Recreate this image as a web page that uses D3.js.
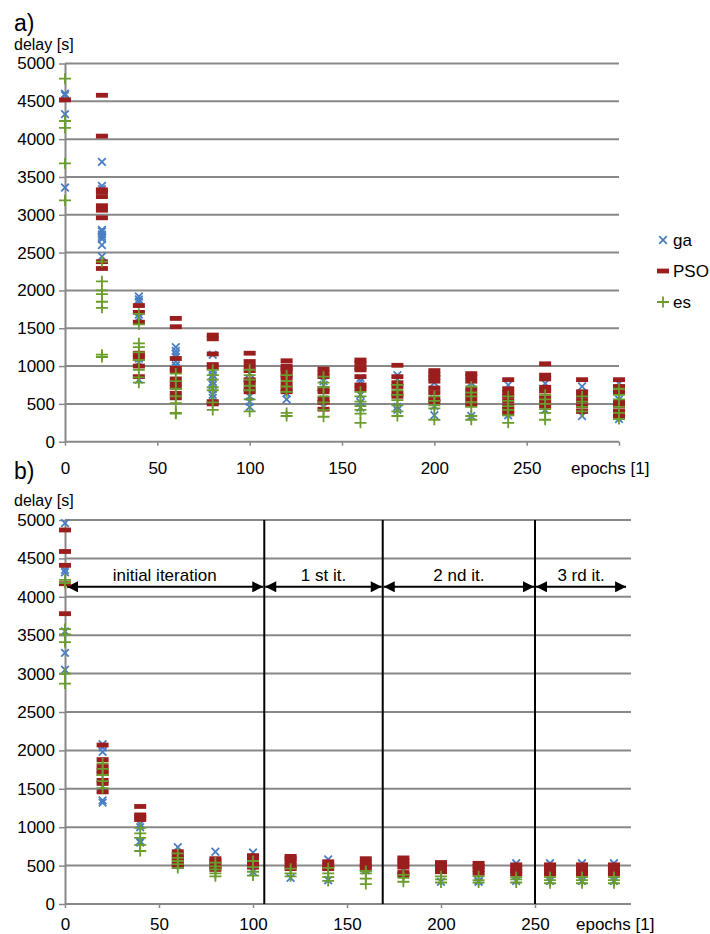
<!DOCTYPE html>
<html>
<head>
<meta charset="utf-8">
<script src="https://cdn.jsdelivr.net/npm/d3@7"></script>
<style>
  body { margin: 0; background: #fff; }
  text { font-family: "Liberation Sans", Arial, sans-serif; }
</style>
</head>
<body>
<script>
// ---- data: panel a) ----
const epochsA = [0, 20, 40, 60, 80, 100, 120, 140, 160, 180, 200, 220, 240, 260, 280, 300];
const gaA = [
  [4600, 4580, 4330, 3360],
  [3700, 3380, 3340, 2800, 2780, 2740, 2710, 2680, 2600, 2450],
  [1920, 1880, 1850, 1680, 1640, 1100, 1050, 820],
  [1250, 1200, 1160, 1120, 1060, 1010],
  [1150, 950, 880, 840, 790, 750, 700, 620, 580],
  [900, 700, 600, 530, 460],
  [800, 640, 560],
  [800, 750, 560, 460],
  [840, 800, 620, 520, 450],
  [880, 820, 460, 420],
  [780, 560, 470, 350],
  [780, 600, 340],
  [750, 560, 350],
  [770, 530, 420],
  [730, 620, 340],
  [770, 560, 300]
];
const psoA = [
  [4520],
  [4580, 4040, 3330, 3300, 3240, 3120, 3060, 2960, 2380, 2290],
  [1800, 1710, 1580, 1170, 1150, 1100, 1000, 860],
  [1630, 1520, 1100, 970, 940, 830, 770, 720, 640, 580],
  [1410, 1360, 1160, 1020, 980, 530, 500],
  [1170, 1060, 1000, 940, 820, 780, 700, 660],
  [1070, 1000, 960, 940, 880, 840, 760, 700, 660],
  [960, 910, 860, 700, 660, 560, 520, 430],
  [1080, 1040, 980, 950, 860, 750, 700],
  [1010, 860, 780, 730, 640, 600],
  [940, 890, 850, 800, 710, 650, 560, 530],
  [900, 860, 800, 690, 620, 560, 490],
  [820, 700, 650, 600, 540, 470, 420, 370],
  [1030, 880, 830, 720, 670, 580, 520, 470],
  [820, 660, 600, 540, 470, 400],
  [820, 730, 660, 530, 470, 400, 340]
];
const esA = [
  [4800, 4240, 4150, 3680, 3190],
  [2380, 2120, 2000, 1950, 1850, 1770, 1150, 1120],
  [1690, 1550, 1300, 1250, 1180, 1080, 950, 850, 780],
  [900, 800, 700, 600, 510, 380, 370],
  [950, 880, 820, 720, 680, 520, 420],
  [950, 880, 820, 740, 680, 560, 400],
  [880, 800, 730, 660, 380, 340],
  [860, 780, 720, 600, 520, 420, 330],
  [660, 600, 530, 470, 420, 370, 250],
  [750, 680, 620, 550, 480, 400, 340],
  [600, 540, 480, 440, 290],
  [730, 650, 600, 520, 460, 340, 290],
  [600, 540, 470, 420, 350, 250],
  [620, 560, 500, 430, 380, 290],
  [600, 530, 460, 400],
  [700, 620, 560, 460, 380, 300]
];

// ---- data: panel b) ----
const epochsB = [0, 20, 40, 60, 80, 100, 120, 140, 160, 180, 200, 220, 240, 258, 275, 292];
const gaB = [
  [4960, 4350, 4320, 3550, 3270, 3050],
  [2080, 2040, 1980, 1530, 1350, 1320],
  [1040, 1000, 820, 800],
  [740],
  [680],
  [670, 420],
  [340],
  [580, 310],
  [440],
  [440],
  [290],
  [300, 290],
  [530, 300],
  [530, 300],
  [530, 300],
  [530, 300]
];
const psoB = [
  [4870, 4590, 4410, 4170, 3780],
  [2070, 1880, 1790, 1740, 1700, 1610, 1570, 1460],
  [1270, 1160, 1130, 1100],
  [680, 640, 600, 560, 520, 490],
  [590, 560, 520, 480, 450],
  [630, 600, 560, 520, 480],
  [620, 590, 550, 500, 460],
  [550, 500, 460],
  [590, 540, 500, 460],
  [600, 560, 520, 480, 410, 380],
  [540, 500, 460, 420],
  [530, 490, 450, 400],
  [510, 470, 430, 390],
  [510, 470, 430, 390],
  [510, 470, 430, 390],
  [510, 470, 430, 390]
];
const esB = [
  [4220, 4180, 3580, 3510, 3410, 3000, 2870],
  [1830, 1760, 1680, 1600, 1510],
  [990, 920, 860, 770, 690],
  [660, 600, 560, 520, 470],
  [540, 490, 450, 400, 360],
  [560, 480, 420, 370],
  [460, 400, 360],
  [470, 400, 350, 300],
  [430, 400, 330, 260],
  [380, 340, 290],
  [360, 320, 280],
  [360, 310, 280],
  [350, 320, 280],
  [350, 310, 270],
  [350, 310, 270],
  [350, 310, 270]
];

// iteration boundaries in panel b) (epochs)
const iterBounds = [0, 106, 169, 250, 299];
const iterLabels = ["initial iteration", "1 st it.", "2 nd it.", "3 rd it."];
const iterArrowValue = 4130;

const yTicks = [0, 500, 1000, 1500, 2000, 2500, 3000, 3500, 4000, 4500, 5000];
const xTicks = [0, 50, 100, 150, 200, 250];
const seriesNames = ["ga", "PSO", "es"];

const colors = { ga: "#4a7ec4", PSO: "#9a1e1e", es: "#6a9c2e" };
const gridColor = "#888";
const fs = 17;

const width = 710, height = 934;
const svg = d3.select("body").append("svg")
  .attr("width", width)
  .attr("height", height);

svg.append("defs").append("marker")
  .attr("id", "ahead")
  .attr("viewBox", "0 0 10 10")
  .attr("refX", 10).attr("refY", 5)
  .attr("markerWidth", 6.5).attr("markerHeight", 5.5)
  .attr("markerUnits", "strokeWidth")
  .attr("orient", "auto-start-reverse")
  .append("path").attr("d", "M0,0L10,5L0,10Z").attr("fill", "#000");

function flatten(epochs, values) {
  const out = [];
  epochs.forEach((e, i) => values[i].forEach(v => out.push({ x: e, y: v })));
  return out;
}

function drawMarker(g, name, cx, cy) {
  if (name === "ga") {
    const s = 3.8;
    g.append("path")
      .attr("d", `M${cx - s},${cy - s}L${cx + s},${cy + s}M${cx - s},${cy + s}L${cx + s},${cy - s}`)
      .attr("stroke", colors.ga).attr("stroke-width", 1.8).attr("fill", "none");
  } else if (name === "PSO") {
    g.append("rect")
      .attr("x", cx - 6).attr("y", cy - 2.4)
      .attr("width", 12).attr("height", 4.8)
      .attr("fill", colors.PSO);
  } else {
    g.append("path")
      .attr("d", `M${cx - 6},${cy}L${cx + 6},${cy}M${cx},${cy - 5.5}L${cx},${cy + 5.5}`)
      .attr("stroke", colors.es).attr("stroke-width", 1.8).attr("fill", "none");
  }
}

function panel(opts) {
  const x = d3.scaleLinear().domain([0, opts.xMax]).range([65, opts.xRight]);
  const y = d3.scaleLinear().domain([0, 5000]).range([opts.yBottom, opts.yTop]);
  const g = svg.append("g");

  // grid
  g.selectAll("line.grid")
    .data(yTicks.filter(d => d > 0))
    .join("line")
    .attr("x1", x(0)).attr("x2", opts.gridRight)
    .attr("y1", d => y(d)).attr("y2", d => y(d))
    .attr("stroke", gridColor).attr("stroke-width", 2);

  // y axis
  const ya = g.append("g").attr("transform", `translate(${x(0)},0)`)
    .call(d3.axisLeft(y).tickValues(yTicks).tickFormat(d3.format("d"))
      .tickSize(6).tickPadding(4).tickSizeOuter(0));
  ya.select(".domain").attr("stroke", gridColor).attr("stroke-width", 2);
  ya.selectAll(".tick line").attr("stroke", gridColor).attr("stroke-width", 1.5);
  ya.selectAll("text").attr("font-size", fs).attr("fill", "#000")
    .attr("font-family", "Liberation Sans, Arial, sans-serif");

  // x axis
  const xa = g.append("g").attr("transform", `translate(0,${opts.yBottom})`)
    .call(d3.axisBottom(x).tickValues(opts.xTickVals).tickSize(4).tickPadding(opts.xPad)
      .tickSizeOuter(0).tickFormat(d => d > 250 ? "" : d));
  xa.select(".domain").attr("stroke", gridColor).attr("stroke-width", 2)
    .attr("d", `M${x(0)},0H${opts.gridRight}`);
  xa.selectAll(".tick line").attr("stroke", gridColor).attr("stroke-width", 1.5);
  xa.selectAll("text").attr("font-size", fs).attr("fill", "#000")
    .attr("font-family", "Liberation Sans, Arial, sans-serif");

  g.append("text").attr("x", opts.epochsX).attr("y", opts.yBottom + opts.labelDy)
    .attr("font-size", fs).text("epochs [1]");
  g.append("text").attr("x", 14).attr("y", opts.yTop - 14)
    .attr("font-size", 16).text("delay [s]");
  g.append("text").attr("x", 14).attr("y", opts.letterY)
    .attr("font-size", 23).text(opts.letter);

  if (opts.extra) opts.extra(g, x, y);

  // points: ga, PSO, es
  const pts = g.append("g");
  [["ga", opts.ga], ["PSO", opts.pso], ["es", opts.es]].forEach(([name, vals]) => {
    flatten(opts.epochs, vals).forEach(p => drawMarker(pts, name, x(p.x), y(p.y)));
  });
}

panel({
  letter: "a)", letterY: 31,
  xMax: 300, xRight: 619, gridRight: 619,
  yTop: 63.5, yBottom: 441.7,
  xTickVals: [0, 50, 100, 150, 200, 250, 300], xPad: 16, labelDy: 32,
  epochsX: 571,
  epochs: epochsA, ga: gaA, pso: psoA, es: esA
});

panel({
  letter: "b)", letterY: 479,
  xMax: 300, xRight: 629, gridRight: 631,
  yTop: 520, yBottom: 904,
  xTickVals: xTicks, xPad: 10, labelDy: 26,
  epochsX: 576,
  epochs: epochsB, ga: gaB, pso: psoB, es: esB,
  extra: (g, x, y) => {
    // vertical separators
    g.selectAll("line.sep")
      .data(iterBounds.slice(1, -1))
      .join("line")
      .attr("x1", d => x(d)).attr("x2", d => x(d))
      .attr("y1", y(5000)).attr("y2", y(0))
      .attr("stroke", "#000").attr("stroke-width", 2);
    // double arrows
    const ay = y(iterArrowValue);
    iterLabels.forEach((lab, i) => {
      const x0 = x(iterBounds[i]) + (i === 0 ? 2 : 1);
      const x1 = x(iterBounds[i + 1]) - 1;
      g.append("line")
        .attr("x1", x0).attr("x2", x1).attr("y1", ay).attr("y2", ay)
        .attr("stroke", "#000").attr("stroke-width", 2)
        .attr("marker-start", "url(#ahead)").attr("marker-end", "url(#ahead)");
      g.append("text")
        .attr("x", (x(iterBounds[i]) + x(iterBounds[i + 1])) / 2)
        .attr("y", ay - 6)
        .attr("text-anchor", "middle").attr("font-size", fs)
        .text(lab);
    });
  }
});

// legend
const legend = svg.append("g");
seriesNames.forEach((name, i) => {
  const ly = 240 + i * 31;
  drawMarker(legend, name, 663, ly);
  legend.append("text").attr("x", 673).attr("y", ly + 6)
    .attr("font-size", fs).text(name);
});
</script>
</body>
</html>
